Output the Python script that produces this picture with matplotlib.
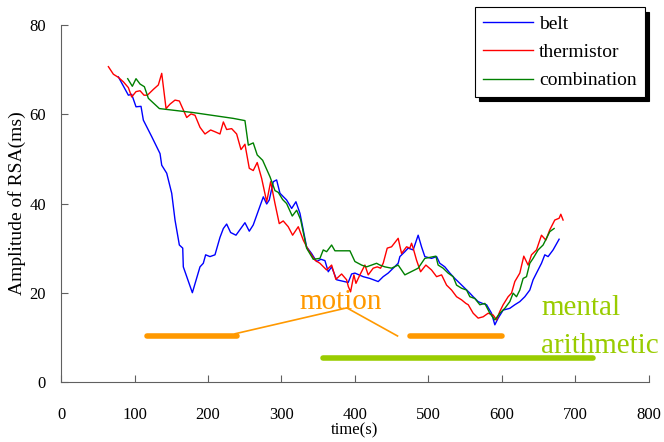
import matplotlib.pyplot as plt

plt.rcParams['font.family'] = ['Liberation Serif', 'DejaVu Serif']

# belt
belt_t = [78, 91.6, 96.1, 102, 108.8, 112, 123.4, 134.7, 137, 143.8, 150.6, 155.1, 161, 165.6,
          166.4, 178.7, 189.1, 193.6, 196.8, 202.7, 209.5, 216.3, 220.9, 225.4, 230.8, 238.1,
          250.3, 256.2, 261.6, 275.3, 279.9, 283.4, 288.9, 293.4, 298, 307, 313.9, 319.7, 325.2,
          334.2, 341, 347.8, 353.7, 359.2, 363.7, 368.3, 375.1, 390.9, 395.5, 400, 411.3, 420.4,
          431.7, 438.5, 445.3, 452.1, 458.9, 461.2, 468, 472.5, 479.3, 486.1, 490.7, 495.2,
          504.3, 511.2, 515.6, 522.4, 529.3, 536, 542.9, 549.7, 556.5, 561, 567.8, 573.7, 579.2,
          586, 590.5, 595, 601.8, 610.9, 617.7, 624.5, 631.3, 638.1, 642.6, 647.2, 654, 658.5,
          663, 669.8, 678]
belt_v = [68.4, 64.3, 64.5, 61.7, 61.8, 58.7, 55.0, 51.2, 48.6, 46.8, 42.3, 36.3, 30.7, 30.0,
          25.8, 20.0, 25.8, 26.6, 28.5, 28.1, 28.5, 32.4, 34.4, 35.4, 33.5, 32.9,
          35.7, 33.8, 35.2, 41.5, 39.9, 40.8, 44.9, 45.3, 42.3, 40.8, 38.9, 40.4, 37.8,
          30.3, 28.8, 27.0, 27.5, 27.2, 24.7, 25.8, 22.9, 22.3, 24.2, 24.4, 23.6, 23.2,
          22.5, 23.6, 24.4, 25.5, 26.6, 28.1, 29.2, 30.0, 29.6, 32.9, 30.3, 28.1,
          27.7, 28.1, 26.6, 25.8, 24.4, 23.2, 22.1, 21.0, 19.9, 19.1, 18.0, 17.6, 17.3,
          15.4, 12.8, 14.3, 16.1, 16.5, 17.3, 18.0, 19.1, 20.6, 22.9, 24.4, 26.6, 28.5,
          28.1, 29.6, 32.0]

# thermistor
therm_t = [64.4, 71.2, 78, 84.8, 91.6, 96.1, 102, 107.5, 112.9, 117.5, 125.6, 132.4, 137, 142.9,
           148.3, 155.1, 161, 165.6, 171, 176.9, 182.3, 189.1, 195.9, 203.6, 209.5, 216.3,
           220.9, 225.4, 232.2, 239, 244.9, 250.3, 256.2, 261.6, 267, 273.1, 279.9, 285.3,
           291.2, 297, 302.4, 309.2, 315.2, 322.9, 329.7, 336.5, 345.6, 352.4, 361.5, 368.3,
           374.1, 381.9, 388.7, 391, 394.1, 398.6, 401.4, 406.8, 413.6, 418.1, 424.9, 430.4,
           434.9, 438.5, 444, 449.9, 458.9, 463.5, 470.3, 474.8, 477.1, 479.3, 483.9, 489.4,
           496.6, 504.3, 511.2, 518, 524.8, 531.6, 538.4, 545.2, 551.1, 554.3, 561, 567.8,
           574.6, 581.4, 588.2, 592.8, 597.3, 601.8, 608.6, 613.2, 617.7, 624.5, 629.9, 635.8,
           640.4, 647.2, 654, 659.9, 665.3, 672.1, 678, 680.3, 683.4]
therm_v = [70.7, 69.0, 68.3, 67.3, 66.0, 63.9, 65.1, 65.3, 64.3, 64.3, 65.6, 66.6, 69.2, 61.3,
           62.3, 63.2, 63.0, 61.3, 59.3, 60.1, 59.8, 57.1, 55.6, 56.5, 56.1, 55.6,
           58.3, 56.6, 56.8, 55.6, 52.1, 53.3, 47.9, 47.4, 49.2, 45.6, 40.4, 44.9,
           40.0, 35.5, 36.1, 34.8, 32.9, 34.8, 31.8, 29.6, 27.3, 26.6, 25.1, 26.2,
           23.0, 24.2, 22.9, 21.4, 20.2, 24.0, 22.1, 24.0, 26.2, 24.0, 25.5, 25.8,
           25.5, 26.6, 30.0, 30.3, 32.2, 28.8, 30.3, 30.0, 31.1, 30.0, 27.3, 24.7,
           26.2, 25.1, 23.6, 24.0, 21.7, 20.6, 19.1, 18.4, 17.6, 17.3, 15.4, 14.3,
           14.6, 15.4, 15.0, 13.9, 15.8, 17.3, 19.1, 19.9, 22.5, 24.4, 28.2, 26.2,
           28.5, 29.6, 32.9, 31.8, 34.1, 36.3, 36.7, 37.6, 36.3]

# combination
comb_t = [90.7, 97, 102, 107.5, 113.4, 118.8, 133.8, 180, 234.4, 250.3, 254.9, 261.6, 267,
          274.4, 284.4, 291.2, 295.7, 301.6, 307, 314.7, 320.7, 326.1, 334.2, 343.3, 352.4,
          356.9, 361.5, 368.3, 372.8, 393.2, 400, 409.1, 415.9, 429.5, 434, 440.8, 449.9,
          458.9, 468, 486.1, 495.2, 510.2, 513.3, 520.1, 526.9, 533.7, 538.4, 545.2, 552,
          556.5, 563.3, 570.1, 576.9, 583.7, 590.5, 597.3, 604.1, 610.9, 615.4, 620, 624.5,
          629, 633.6, 638.1, 642.6, 649.4, 656.2, 660.8, 665.3, 671.2]
comb_v = [68.0, 66.3, 68.0, 66.8, 66.2, 63.6, 61.3, 60.4, 59.1, 58.6, 53.1, 53.6, 50.9,
          49.7, 46.0, 42.9, 42.5, 40.9, 40.0, 37.2, 38.5, 36.4, 30.0, 27.5, 27.7,
          29.6, 29.2, 30.7, 29.4, 29.4, 27.0, 26.2, 25.8, 26.6, 26.2, 25.8, 25.5,
          26.2, 24.0, 25.5, 27.7, 28.2, 26.2, 25.5, 24.4, 23.6, 21.7, 21.0, 20.6,
          19.1, 18.7, 17.3, 17.6, 15.4, 13.9, 15.4, 16.5, 18.0, 19.9, 19.1, 20.6,
          23.2, 23.6, 26.6, 27.7, 29.6, 30.7, 32.2, 33.7, 34.4]

# condition markers
motion_1 = [117, 239]
motion_2 = [475, 600]
motion_y = 10.3
mental = [356, 724]
mental_y = 5.4
orange = '#ff9900'
yellowgreen = '#99cc00'

fig = plt.figure(figsize=(6.64, 4.42), dpi=100)
ax = fig.add_axes([0.092, 0.136, 0.885, 0.807])

ax.plot(belt_t, belt_v, color='#0000ff', lw=1, label='belt')
ax.plot(therm_t, therm_v, color='#ff0000', lw=1, label='thermistor')
ax.plot(comb_t, comb_v, color='#008000', lw=1, label='combination')

ax.plot(motion_1, [motion_y, motion_y], color=orange, lw=4, solid_capstyle='round')
ax.plot(motion_2, [motion_y, motion_y], color=orange, lw=4, solid_capstyle='round')
ax.plot([237, 389, 458], [10.8, 16.6, 10.3], color=orange, lw=1.2)
ax.plot(mental, [mental_y, mental_y], color=yellowgreen, lw=4, solid_capstyle='round')

ax.text(380, 18.0, 'motion', color=orange, fontsize=21, ha='center', va='center')
ax.text(654, 16.6, 'mental', color=yellowgreen, fontsize=21, ha='left', va='center')
ax.text(654, 8.0, 'arithmetic', color=yellowgreen, fontsize=21, ha='left', va='center')

ax.set_xlim(0, 800)
ax.set_ylim(0, 80)
ax.set_xticks(range(0, 801, 100))
ax.set_yticks(range(0, 81, 20))
ax.spines['top'].set_visible(False)
ax.spines['right'].set_visible(False)
ax.spines['left'].set_color('#606060')
ax.spines['bottom'].set_color('#606060')
ax.tick_params(axis='x', direction='in', length=5, pad=18, labelsize=12, color='#606060')
ax.tick_params(axis='y', direction='in', length=5, pad=11, labelsize=12, color='#606060')
ax.set_xlabel('time(s)', fontsize=12, labelpad=0)
ax.set_ylabel('Amplitude of RSA(ms)', fontsize=14, labelpad=2)

leg = ax.legend(loc='upper right', bbox_to_anchor=(0.993, 1.05), fontsize=14, frameon=True,
                fancybox=False, shadow={'color': 'black', 'alpha': 1.0, 'ox': 3, 'oy': -3},
                handlelength=2.6, borderpad=0.4, labelspacing=0.55, handletextpad=0.3,
                borderaxespad=0)
leg.get_frame().set_edgecolor('black')
leg.get_frame().set_linewidth(0.8)

fig.savefig('out.png', dpi=100)
